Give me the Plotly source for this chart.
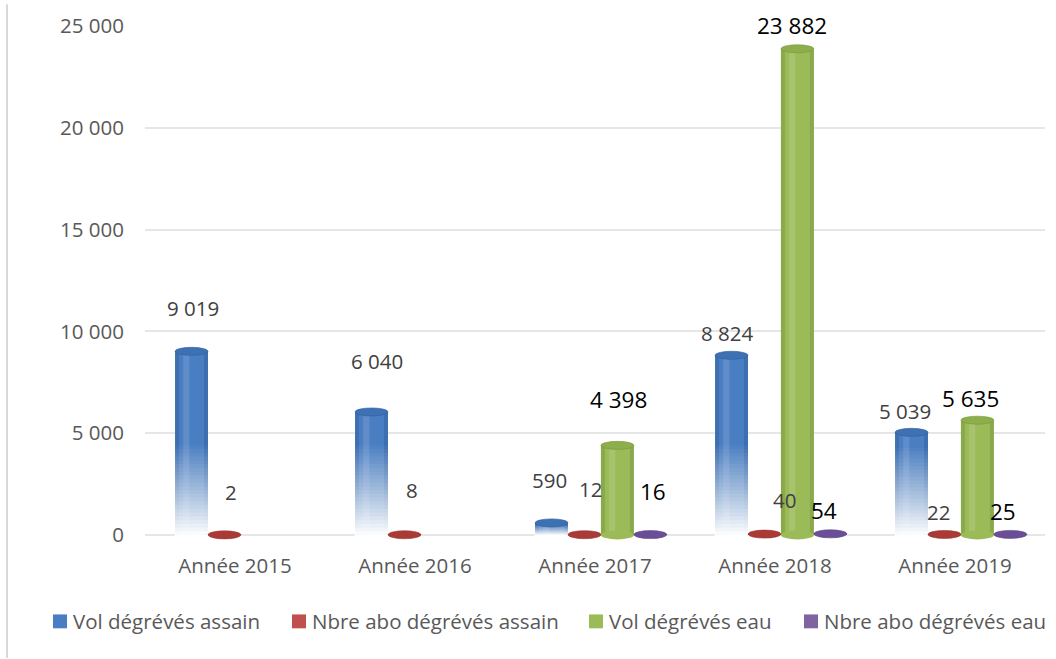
import plotly.graph_objects as go

# ---- data -------------------------------------------------------------
categories = ["Année 2015", "Année 2016", "Année 2017", "Année 2018", "Année 2019"]
vol_assain = [9019, 6040, 590, 8824, 5039]
abo_assain = [2, 8, 12, 40, 22]
vol_eau = [None, None, 4398, 23882, 5635]
abo_eau = [None, None, 16, 54, 25]
series_names = [
    "Vol dégrévés assain",
    "Nbre abo dégrévés assain",
    "Vol dégrévés eau",
    "Nbre abo dégrévés eau",
]
y_ticks = [0, 5000, 10000, 15000, 20000, 25000]

series_values = [vol_assain, abo_assain, vol_eau, abo_eau]

# ---- styling ----------------------------------------------------------
W, H = 1056, 659
M_L, M_R, M_T, M_B = 145, 11, 22, 119
PLOT_W = W - M_L - M_R
PLOT_H = H - M_T - M_B
Y_MIN, Y_MAX = -250, 25000

SLOT_W = 0.183
SLOT_OFF = [-0.333, -0.150, 0.033, 0.216]
BODY = ["#4A7EC2", "#C0504D", "#9BBB59", "#8064A2"]
EDGE = ["#2F5F9F", "#983734", "#7A963F", "#5E4686"]
CAP = ["#3E70B4", "#A93A36", "#8CAE4B", "#6A4F98"]
LABEL_COLOR = ["#404040", "#404040", "#000000", "#000000"]
LABEL_SIZE = [20.5, 20.5, 22.5, 22.5]
FADE = [True, False, False, False]

# label displacement (px) from the top of each cylinder: (dx, dy)
LABEL_SHIFT = [
    [(1, 43), (5, 51), (-2, 43), (-5, 22), (-7, 21)],
    [(7, 43), (8, 45), (6, 46), (20, 34), (-6, 22)],
    [None, None, (1, 46), (-5, 23), (-7, 22)],
    [None, None, (3, 43), (-6, 23), (-7, 23)],
]

FONT = "Open Sans"
units_per_px = (Y_MAX - Y_MIN) / PLOT_H
CAP_H = 4.5 * units_per_px
FADE_TOP = 4400
N_FADE = 24
FADE_MAX = 0.97


def fmt(v):
    return f"{v:,}".replace(",", " ")


def fade_alphas(n, peak):
    """Per-layer alphas so the stacked layers give a linear white ramp."""
    out, prev = [], 0.0
    for m in range(1, n + 1):
        target = peak * m / n
        out.append(1 - (1 - target) / (1 - prev))
        prev = target
    return out


fig = go.Figure()
shapes = []
annotations = []

for s, vals in enumerate(series_values):
    off = SLOT_OFF[s]
    # cylinder body
    fig.add_trace(go.Bar(
        x=categories, y=vals, name=series_names[s],
        offset=off, width=SLOT_W,
        marker=dict(color=BODY[s], line=dict(width=0)),
        showlegend=False, hoverinfo="x+y+name",
    ))
    # darker rims and a soft highlight give the round look
    edge_w = 0.022
    for eo in (off, off + SLOT_W - edge_w):
        fig.add_trace(go.Bar(
            x=categories, y=vals, offset=eo, width=edge_w,
            marker=dict(color=EDGE[s], opacity=0.5, line=dict(width=0)),
            showlegend=False, hoverinfo="skip",
        ))
    fig.add_trace(go.Bar(
        x=categories, y=vals, offset=off + 0.045, width=0.035,
        marker=dict(color="rgba(255,255,255,0.12)", line=dict(width=0)),
        showlegend=False, hoverinfo="skip",
    ))
    # white fade toward the floor: nested translucent layers from the floor up
    if FADE[s]:
        heights = [min(FADE_TOP, 0.85 * v) if v else 0 for v in vals]
        pad = units_per_px * 3
        for m, a in enumerate(fade_alphas(N_FADE, FADE_MAX), start=1):
            frac = (N_FADE - m + 1) / N_FADE
            fig.add_trace(go.Bar(
                x=categories,
                y=[h * frac + pad if h else 0 for h in heights],
                base=[-pad if h else 0 for h in heights],
                offset=off - 0.002, width=SLOT_W + 0.004,
                marker=dict(color=f"rgba(255,255,255,{a:.4f})", line=dict(width=0)),
                showlegend=False, hoverinfo="skip",
            ))

    for i, v in enumerate(vals):
        if v is None:
            continue
        x0, x1 = i + off, i + off + SLOT_W
        # rounded floor for solid cylinders
        if not FADE[s] and v > 10 * CAP_H:
            shapes.append(dict(
                type="circle", xref="x", yref="y", x0=x0, x1=x1,
                y0=-CAP_H, y1=CAP_H, fillcolor=BODY[s],
                line=dict(width=0), layer="above",
            ))
        # top cap
        shapes.append(dict(
            type="circle", xref="x", yref="y", x0=x0, x1=x1,
            y0=v - CAP_H * 0.9, y1=v + CAP_H * 0.9,
            fillcolor=CAP[s], line=dict(color=EDGE[s], width=0.6),
            layer="above",
        ))
        dx, dy = LABEL_SHIFT[s][i]
        annotations.append(dict(
            x=i + off + SLOT_W / 2, y=v, xref="x", yref="y",
            text=fmt(v), showarrow=False, xanchor="center", yanchor="middle",
            xshift=dx, yshift=dy,
            font=dict(family=FONT, size=LABEL_SIZE[s], color=LABEL_COLOR[s]),
        ))


def px_x(px):
    return (px - M_L) / PLOT_W


def px_y(py):
    return (H - M_B - py) / PLOT_H


# legend drawn as swatches + labels
LEGEND_X = [53, 292, 589, 804]
for s, name in enumerate(series_names):
    lx = LEGEND_X[s]
    shapes.append(dict(
        type="rect", xref="paper", yref="paper",
        x0=px_x(lx), x1=px_x(lx + 14), y0=px_y(629), y1=px_y(615),
        fillcolor=BODY[s], line=dict(width=0),
    ))
    annotations.append(dict(
        x=px_x(lx + 18), y=px_y(622), xref="paper", yref="paper",
        text=name, showarrow=False, xanchor="left", yanchor="middle",
        font=dict(family=FONT, size=20.5, color="#595959"),
    ))

# chart frame edge on the left
shapes.append(dict(
    type="line", xref="paper", yref="paper",
    x0=px_x(7), x1=px_x(7), y0=px_y(H), y1=px_y(0),
    line=dict(color="#d9d9d9", width=2),
))

fig.update_layout(
    width=W, height=H,
    margin=dict(l=M_L, r=M_R, t=M_T, b=M_B),
    barmode="overlay",
    plot_bgcolor="white", paper_bgcolor="white",
    separators=", ",
    font=dict(family=FONT, size=20.5, color="#595959"),
    shapes=shapes, annotations=annotations,
    showlegend=False,
)
fig.update_xaxes(
    type="category", categoryorder="array", categoryarray=categories,
    range=[-0.5, 4.5], showgrid=False, showline=False, zeroline=False,
    ticks="", ticklabelstandoff=11,
    tickfont=dict(family=FONT, size=20.5, color="#595959"),
)
fig.update_yaxes(
    range=[Y_MIN, Y_MAX], tickvals=y_ticks, tickformat=",d",
    showgrid=True, gridcolor="#e6e6e6", gridwidth=1.5,
    zeroline=False, showline=False, ticks="", ticklabelstandoff=20,
    tickfont=dict(family=FONT, size=20.5, color="#595959"),
)

fig.write_html("out.html")
